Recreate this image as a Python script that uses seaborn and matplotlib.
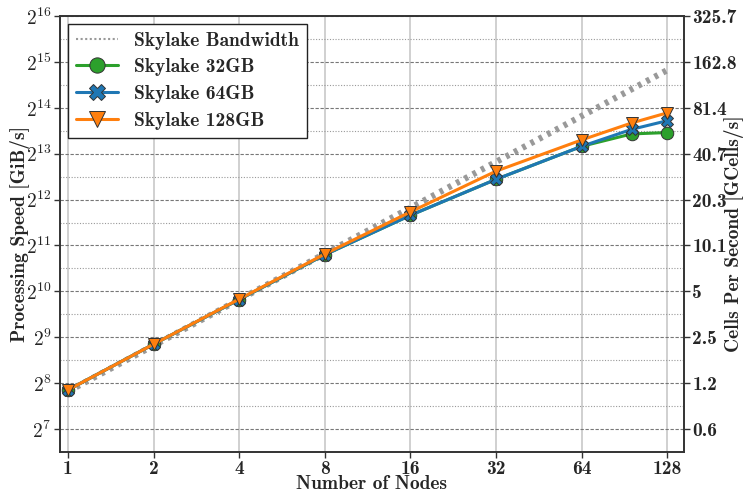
import numpy as np
import pandas as pd
import matplotlib
matplotlib.use("Agg")
import matplotlib.pyplot as plt
from matplotlib.lines import Line2D
from matplotlib.ticker import FixedLocator, NullFormatter, FixedFormatter
import seaborn as sns

# ---- data ----
nodes = [1, 2, 4, 8, 16, 32, 64, 96, 128]
bw_nodes = [1, 2, 4, 8, 16, 32, 64, 128]
bandwidth = [226, 452, 904, 1808, 3616, 7232, 14464, 28928]
speed_32 = [231, 461, 905, 1780, 3230, 5560, 9150, 11040, 11270]
speed_64 = [231, 461, 905, 1780, 3230, 5560, 9150, 11830, 13480]
speed_128 = [231, 461, 911, 1800, 3400, 6290, 10080, 13030, 15180]
x_ticks = [1, 2, 4, 8, 16, 32, 64, 128]
y_exps = [7, 8, 9, 10, 11, 12, 13, 14, 15, 16]
right_labels = ["0.6", "1.2", "2.5", "5", "10.1", "20.3", "40.7", "81.4", "162.8", "325.7"]

sns.set_style("white")
plt.rcParams["font.family"] = ["cmb10", "DejaVu Serif"]
plt.rcParams["mathtext.fontset"] = "cm"
plt.rcParams["axes.unicode_minus"] = False

FS = 14

fig = plt.figure(figsize=(7.45, 4.92), dpi=100)
ax = fig.add_axes([0.0805, 0.0813, 0.8375, 0.8862])

ax.set_xscale("log", base=2)
ax.set_yscale("log", base=2)

bw_df = pd.DataFrame({"n": bw_nodes, "v": bandwidth})
sns.lineplot(data=bw_df, x="n", y="v", ax=ax, color="#999999", lw=4.5,
             linestyle=(0, (0.6, 0.9)), zorder=3)

series = [("Skylake 32GB", speed_32, "#2ca02c", "o", 9),
          ("Skylake 64GB", speed_64, "#1f77b4", "X", 9),
          ("Skylake 128GB", speed_128, "#ff7f0e", "v", 9)]
for i, (name, vals, col, mk, ms) in enumerate(series):
    df = pd.DataFrame({"n": nodes, "v": vals})
    sns.lineplot(data=df, x="n", y="v", ax=ax, color=col, lw=2.2, marker=mk,
                 markersize=ms, markeredgecolor="#333333", markeredgewidth=0.7,
                 zorder=4 + i)

ax.set_xlim(2 ** -0.0935, 2 ** 7.195)
ax.set_ylim(2 ** 6.5, 2 ** 16)

ax.xaxis.set_major_locator(FixedLocator(x_ticks))
ax.set_xticks(x_ticks)
ax.set_xticklabels([str(v) for v in x_ticks])
ax.xaxis.set_minor_locator(FixedLocator([]))
ax.xaxis.set_minor_formatter(NullFormatter())

ax.yaxis.set_major_locator(FixedLocator([2.0 ** e for e in y_exps]))
ax.yaxis.set_major_formatter(FixedFormatter([r"$\mathbf{2^{%d}}$" % e for e in y_exps]))
ax.yaxis.set_minor_locator(FixedLocator([2.0 ** (e + 0.5) for e in range(6, 16)]))
ax.yaxis.set_minor_formatter(NullFormatter())

ax.grid(False)
ax.xaxis.grid(True, which="major", color="#c8c8c8", lw=1.2, ls="-")
ax.yaxis.grid(True, which="major", color="#777777", lw=0.8, ls=(0, (3, 1.5)))
ax.yaxis.grid(True, which="minor", color="#999999", lw=0.8, ls=(0, (1, 1.5)))
ax.set_axisbelow(True)

ax.tick_params(axis="both", which="major", labelsize=FS, direction="out",
               length=4, width=1, color="#333333", bottom=True, left=True, pad=2)
ax.tick_params(axis="y", which="minor", length=0)
for s in ax.spines.values():
    s.set_color("#333333")
    s.set_linewidth(1.2)

ax.set_xlabel("Number of Nodes", fontsize=FS, labelpad=0)
ax.xaxis.set_label_coords(0.5, -0.053)
ax.set_ylabel("Processing Speed [GiB/s]", fontsize=FS)
ax.yaxis.set_label_coords(-0.048, 0.5)

ax2 = ax.twinx()
ax2.set_yscale("log", base=2)
ax2.set_ylim(ax.get_ylim())
ax2.yaxis.set_major_locator(FixedLocator([2.0 ** e for e in y_exps]))
ax2.yaxis.set_major_formatter(FixedFormatter(right_labels))
ax2.yaxis.set_minor_locator(FixedLocator([]))
ax2.tick_params(axis="y", labelsize=FS, direction="out", length=4, width=1,
                color="#333333", right=True, pad=2)
ax2.grid(False)
for s in ax2.spines.values():
    s.set_color("#333333")
    s.set_linewidth(1.2)
ax2.set_ylabel("Cells Per Second [GCells/s]", fontsize=FS)
ax2.yaxis.set_label_coords(1.065, 0.5)

handles = [Line2D([], [], color="#999999", lw=1.5, ls=(0, (1, 1.2))),
           Line2D([], [], color="#2ca02c", lw=2.2, marker="o", markersize=11,
                  markeredgecolor="#333333", markeredgewidth=0.7),
           Line2D([], [], color="#1f77b4", lw=2.2, marker="X", markersize=11,
                  markeredgecolor="#333333", markeredgewidth=0.7),
           Line2D([], [], color="#ff7f0e", lw=2.2, marker="v", markersize=11,
                  markeredgecolor="#333333", markeredgewidth=0.7)]
labels = ["Skylake Bandwidth", "Skylake 32GB", "Skylake 64GB", "Skylake 128GB"]
leg = ax2.legend(handles, labels, loc="upper left", fontsize=FS, fancybox=False,
                 framealpha=1, edgecolor="#222222", borderaxespad=0.4,
                 handlelength=2.2, labelspacing=0.45)
leg.get_frame().set_linewidth(1.0)

fig.savefig("out.png", dpi=100)
